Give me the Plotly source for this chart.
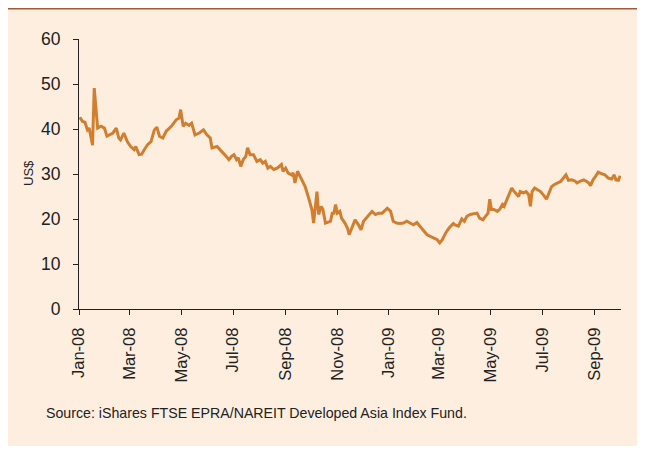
import plotly.graph_objects as go

dates = [
    "2008-01-02", "2008-01-05", "2008-01-08", "2008-01-11", "2008-01-13", "2008-01-15", "2008-01-17", "2008-01-19",
    "2008-01-21", "2008-01-23", "2008-01-27", "2008-01-31", "2008-02-03", "2008-02-06", "2008-02-10", "2008-02-14",
    "2008-02-17", "2008-02-19", "2008-02-23", "2008-02-27", "2008-03-02", "2008-03-06", "2008-03-08", "2008-03-12",
    "2008-03-15", "2008-03-18", "2008-03-22", "2008-03-26", "2008-03-30", "2008-04-02", "2008-04-05", "2008-04-09",
    "2008-04-13", "2008-04-19", "2008-04-25", "2008-04-28", "2008-04-30", "2008-05-03", "2008-05-06", "2008-05-10",
    "2008-05-13", "2008-05-17", "2008-05-22", "2008-05-27", "2008-05-31", "2008-06-04", "2008-06-06", "2008-06-12",
    "2008-06-16", "2008-06-19", "2008-06-23", "2008-06-26", "2008-06-29", "2008-07-02", "2008-07-05", "2008-07-07",
    "2008-07-10", "2008-07-13", "2008-07-16", "2008-07-18", "2008-07-21", "2008-07-25", "2008-07-29", "2008-08-02",
    "2008-08-05", "2008-08-08", "2008-08-11", "2008-08-14", "2008-08-18", "2008-08-22", "2008-08-27", "2008-08-29",
    "2008-09-01", "2008-09-04", "2008-09-08", "2008-09-10", "2008-09-12", "2008-09-15", "2008-09-18", "2008-09-21",
    "2008-09-24", "2008-09-27", "2008-09-29", "2008-10-02", "2008-10-04", "2008-10-06", "2008-10-08", "2008-10-10",
    "2008-10-13", "2008-10-15", "2008-10-18", "2008-10-20", "2008-10-24", "2008-10-26", "2008-10-28", "2008-10-30",
    "2008-11-01", "2008-11-04", "2008-11-06", "2008-11-10", "2008-11-13", "2008-11-15", "2008-11-18", "2008-11-22",
    "2008-11-26", "2008-11-29", "2008-12-02", "2008-12-05", "2008-12-09", "2008-12-12", "2008-12-16", "2008-12-20",
    "2008-12-24", "2008-12-28", "2008-12-30", "2009-01-03", "2009-01-06", "2009-01-10", "2009-01-14", "2009-01-18",
    "2009-01-22", "2009-01-26", "2009-01-30", "2009-02-03", "2009-02-06", "2009-02-10", "2009-02-15", "2009-02-20",
    "2009-02-24", "2009-02-27", "2009-03-02", "2009-03-05", "2009-03-09", "2009-03-13", "2009-03-18", "2009-03-20",
    "2009-03-24", "2009-03-28", "2009-03-31", "2009-04-03", "2009-04-07", "2009-04-11", "2009-04-15", "2009-04-18",
    "2009-04-22", "2009-04-25", "2009-04-28", "2009-04-30", "2009-05-02", "2009-05-05", "2009-05-09", "2009-05-12",
    "2009-05-15", "2009-05-17", "2009-05-21", "2009-05-24", "2009-05-26", "2009-05-28", "2009-05-30", "2009-06-03",
    "2009-06-05", "2009-06-09", "2009-06-12", "2009-06-15", "2009-06-17", "2009-06-19", "2009-06-22", "2009-06-25",
    "2009-06-29", "2009-07-03", "2009-07-06", "2009-07-09", "2009-07-12", "2009-07-15", "2009-07-19", "2009-07-23",
    "2009-07-26", "2009-07-29", "2009-08-01", "2009-08-05", "2009-08-09", "2009-08-11", "2009-08-15", "2009-08-19",
    "2009-08-22", "2009-08-25", "2009-08-27", "2009-08-30", "2009-09-02", "2009-09-05", "2009-09-09", "2009-09-13",
    "2009-09-17", "2009-09-21", "2009-09-24", "2009-09-26", "2009-09-29", "2009-10-01",
]

prices = [
    42.6, 41.7, 41.5, 39.8, 40.2, 38.4, 36.4, 49.1,
    44.7, 40.2, 40.6, 40.2, 38.4, 38.7, 39.1, 40.2,
    38.0, 37.6, 39.1, 37.2, 36.1, 35.4, 36.1, 34.3,
    34.4, 35.4, 36.5, 37.2, 39.8, 40.4, 38.4, 38.0,
    39.5, 40.6, 42.1, 42.4, 44.3, 40.6, 41.3, 40.8,
    41.3, 38.7, 39.1, 39.8, 38.7, 38.0, 35.8, 36.1,
    35.4, 34.7, 33.9, 33.2, 33.9, 34.3, 33.2, 33.6,
    31.7, 33.2, 33.9, 35.8, 34.3, 34.3, 32.8, 33.2,
    32.4, 32.8, 31.3, 31.7, 31.0, 31.3, 32.1, 30.6,
    31.3, 30.2, 29.8, 30.2, 28.0, 30.6, 29.5, 28.4,
    27.2, 25.4, 23.9, 22.1, 19.1, 22.4, 26.1, 21.0,
    22.8, 22.1, 19.1, 19.2, 19.5, 21.3, 21.3, 23.2,
    21.3, 21.7, 20.2, 19.1, 18.0, 16.5, 18.0, 19.8,
    18.7, 17.6, 19.5, 20.2, 21.0, 21.7, 21.0, 21.3,
    21.3, 22.1, 22.4, 21.7, 19.5, 19.1, 19.0, 19.1,
    19.5, 19.1, 18.7, 19.2, 18.4, 17.6, 16.5, 16.1,
    15.8, 15.4, 14.7, 15.4, 16.9, 18.0, 19.0, 18.7,
    18.4, 20.0, 19.5, 20.6, 21.0, 21.2, 21.3, 20.2,
    19.8, 20.6, 21.3, 24.4, 22.1, 22.1, 21.7, 22.2,
    23.2, 22.8, 24.8, 26.1, 26.9, 26.3, 25.8, 25.0,
    26.1, 25.8, 26.1, 25.4, 22.8, 26.1, 26.9, 26.5,
    26.1, 25.2, 24.4, 25.8, 27.2, 27.6, 28.0, 28.4,
    29.1, 29.8, 28.6, 28.7, 28.4, 28.0, 28.4, 28.7,
    28.4, 28.0, 27.4, 28.7, 29.5, 30.4, 30.1, 29.8,
    29.1, 28.9, 29.8, 28.7, 28.6, 29.6,
]

y_ticks = [0, 10, 20, 30, 40, 50, 60]
y_title = "US$"
source_text = "Source: iShares FTSE EPRA/NAREIT Developed Asia Index Fund."

FONT = "Liberation Sans, Arial, sans-serif"
BG = "#FDEEE0"
LINE = "#D17F2F"
INK = "#222222"

fig = go.Figure()
fig.add_trace(go.Scatter(
    x=dates, y=prices, mode="lines",
    line=dict(color=LINE, width=3),
    hoverinfo="skip", showlegend=False,
))

# figure is placed 8px right/down in the page (body margin); plot area in figure px
FW, FH = 637, 438
L, T = 71, 31
R = FW - 613
B = FH - 301
W, H = FW - L - R, FH - T - B


def px_x(p):
    return (p - L) / W


def px_y(p):
    return (FH - B - p) / H


shapes = [
    dict(type="rect", xref="paper", yref="paper", layer="below",
         x0=px_x(-2), x1=px_x(FW + 2), y0=px_y(1.6), y1=px_y(-1),
         fillcolor="#9C5B3E", line=dict(width=0)),
]

fig.update_layout(
    width=FW, height=FH,
    margin=dict(l=L, r=R, t=T, b=B),
    paper_bgcolor=BG,
    plot_bgcolor="rgba(0,0,0,0)",
    shapes=shapes,
    font=dict(family=FONT, size=17, color=INK),
    xaxis=dict(
        type="date",
        range=["2008-01-01", "2009-10-02"],
        tick0="2008-01-01", dtick="M2",
        tickformat="%b-%y",
        tickangle=-90,
        ticks="outside", ticklen=5, tickcolor=INK,
        showline=True, linecolor=INK, linewidth=1,
        showgrid=False, zeroline=False,
        ticklabelstandoff=6,
        tickfont=dict(family=FONT, size=16.5, color=INK),
    ),
    yaxis=dict(
        range=[0, 60],
        tickvals=y_ticks,
        ticks="outside", ticklen=5, tickcolor=INK,
        showline=True, linecolor=INK, linewidth=1,
        showgrid=False, zeroline=False,
        ticklabelstandoff=9,
        tickfont=dict(family=FONT, size=17.5, color=INK),
    ),
    annotations=[
        dict(text=y_title, xref="paper", yref="paper",
             x=px_x(20), y=px_y(165), textangle=-90,
             showarrow=False, xanchor="center", yanchor="middle",
             font=dict(family=FONT, size=13, color=INK)),
        dict(text=source_text, xref="paper", yref="paper",
             x=px_x(36), y=px_y(405), showarrow=False,
             xanchor="left", yanchor="middle",
             font=dict(family=FONT, size=14.2, color=INK)),
    ],
)

fig.write_html("out.html")
